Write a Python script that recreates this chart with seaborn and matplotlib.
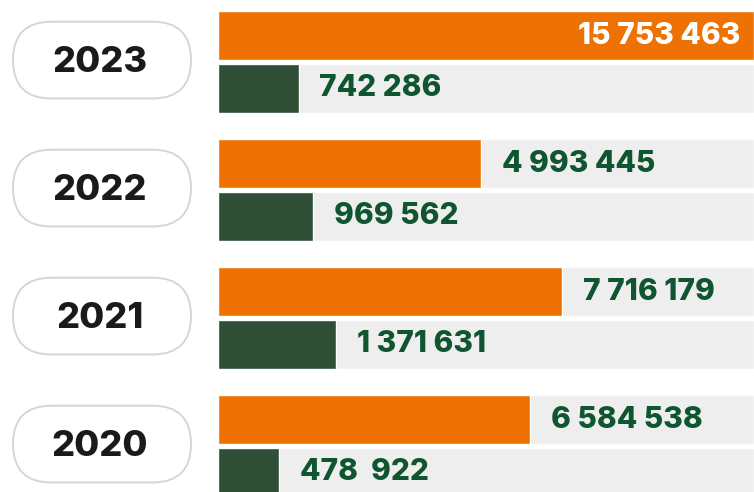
import numpy as np
import pandas as pd
import matplotlib.pyplot as plt
from matplotlib.patches import FancyBboxPatch
import seaborn as sns

# Data
years = ['2023', '2022', '2021', '2020']
orange_values = [15753463, 4993445, 7716179, 6584538]
green_values = [742286, 969562, 1371631, 478922]
orange_labels = ['15 753 463', '4 993 445', '7 716 179', '6 584 538']
green_labels = ['742 286', '969 562', '1 371 631', '478  922']

ORANGE = '#ee7203'
GREEN = '#2f4f37'
TRACK = '#eeeeee'
LABEL_GREEN = '#0e5530'
YEAR_COLOR = '#1a1a1a'

sns.set_theme(style='white')
plt.rcParams['font.family'] = ['Inter', 'DejaVu Sans']

df = pd.DataFrame({
    'year': years * 2,
    'series': ['orange'] * len(years) + ['green'] * len(years),
    'value': orange_values + green_values,
})
vmax = df['value'].max()
track = df.assign(value=vmax)
label_map = dict(zip(orange_values + green_values, orange_labels + green_labels))

fig = plt.figure(figsize=(7.54, 4.92), dpi=100)
ax = fig.add_axes([218 / 754, 0, 1 - 218 / 754, 1])

common = dict(y='year', x='value', hue='series', order=years,
              hue_order=['orange', 'green'], orient='h', width=0.82, gap=0.075,
              saturation=1, errorbar=None, legend=False, ax=ax)
sns.barplot(data=track, palette=[TRACK, TRACK], **common)
sns.barplot(data=df, palette=[ORANGE, GREEN], **common)

# bars are not drawn on a linear scale in the original
p = 0.62
ax.set_xscale('function', functions=(lambda x: np.sign(x) * np.abs(x) ** p,
                                     lambda x: np.sign(x) * np.abs(x) ** (1 / p)))
ax.set_xlim(0, vmax)
ax.set_ylim(3 + 46 / 128, -62 / 128)
ax.set_axis_off()

# Value labels
for cont in ax.containers[2:]:
    for bar in cont:
        v = bar.get_width()
        yc = bar.get_y() + bar.get_height() / 2
        lab = label_map[int(round(v))]
        if v == vmax:
            ax.annotate(lab, (v, yc), xytext=(-10, 0), textcoords='offset points',
                        ha='right', va='center', color='white',
                        fontsize=21.5, fontweight='heavy')
        else:
            ax.annotate(lab, (v, yc), xytext=(15, 0), textcoords='offset points',
                        ha='left', va='center', color=LABEL_GREEN,
                        fontsize=21.5, fontweight='heavy')

# Year pills on the left
lax = fig.add_axes([0, 0, 218 / 754, 1])
lax.set_xlim(0, 218 / 128)
lax.set_ylim(ax.get_ylim())
lax.set_axis_off()
for i, year in enumerate(years):
    yc = i - 0.015
    pill = FancyBboxPatch((13 / 128, yc - 0.3), 178 / 128, 0.6,
                          boxstyle='round,pad=0,rounding_size=0.3',
                          fc='white', ec='#d4d4d4', lw=1.3)
    lax.add_patch(pill)
    lax.text(100 / 128, yc + 0.018, year, ha='center', va='center', color=YEAR_COLOR,
             fontsize=26, fontweight='heavy')

fig.savefig('out.png', dpi=100)
